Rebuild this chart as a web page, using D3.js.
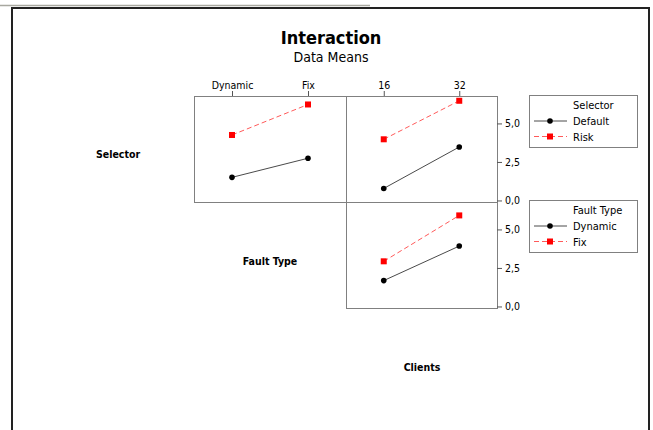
<!DOCTYPE html>
<html><head><meta charset="utf-8">
<script src="https://cdn.jsdelivr.net/npm/d3@7"></script>
<style>body{margin:0;background:#fff}svg{display:block}text{font-family:"DejaVu Sans Condensed","DejaVu Sans",sans-serif}</style>
</head><body><svg id="c" width="653" height="430"></svg>
<script>
// ---- data ----
const selectorLevels = ["Default", "Risk"];
const faultLevels = ["Dynamic", "Fix"];
const clientLevels = ["16", "32"];
// Selector x Fault Type means
const selDefaultByFault = [1.50, 2.74];
const selRiskByFault = [4.25, 6.23];
// Selector x Clients means
const selDefaultByClients = [0.78, 3.47];
const selRiskByClients = [3.97, 6.47];
// Fault Type x Clients means
const faultDynamicByClients = [1.68, 3.92];
const faultFixByClients = [2.93, 5.91];
const yTicks = [0, 2.5, 5];

const svg = d3.select("#c");
const locale = d3.formatLocale({decimal: ",", thousands: ".", grouping: [3], currency: ["", ""]});
const fmt = locale.format(".1f");

// frame
svg.append("line").attr("x1",0).attr("x2",370).attr("y1",5.5).attr("y2",5.5).attr("stroke","#a8a8a0").attr("stroke-width",1.5);
svg.append("rect").attr("x",12).attr("y",8).attr("width",637).attr("height",440).attr("fill","none").attr("stroke","#222").attr("stroke-width",2);

svg.append("text").attr("x",331).attr("y",44).attr("text-anchor","middle").attr("font-size",18).attr("font-weight","bold").text("Interaction");
svg.append("text").attr("x",331).attr("y",62).attr("text-anchor","middle").attr("font-size",14).text("Data Means");

// layout scales
const colX = [[194, 346], [346, 497]];
const rowY = [[96, 202], [202, 308]];
const yDomain = [-0.1, 6.78];
const xFault = d3.scalePoint().domain(faultLevels).range(colX[0]).padding(0.5);
const xClients = d3.scalePoint().domain(clientLevels).range(colX[1]).padding(0.5);
const yRow = rowY.map(r => d3.scaleLinear().domain(yDomain).range([r[1], r[0]]));

const styles = [
  {stroke:"#4a4a4a", dash:null, marker:"circle", fill:"#000"},
  {stroke:"#ff5a5a", dash:"5,3", marker:"square", fill:"#f00"}
];

function panel(x, y, seriesList, levels) {
  const [x0, x1] = x.range();
  const [yb, yt] = y.range();
  svg.append("rect").attr("x",x0+0.5).attr("y",yt+0.5).attr("width",x1-x0).attr("height",yb-yt)
    .attr("fill","none").attr("stroke","#808080").attr("stroke-width",1);
  seriesList.forEach((vals, i) => {
    const st = styles[i];
    const pts = levels.map((l, j) => [x(l), y(vals[j])]);
    svg.append("path").attr("d", d3.line()(pts)).attr("fill","none").attr("stroke",st.stroke)
      .attr("stroke-width",1).attr("stroke-dasharray",st.dash);
    pts.forEach(p => drawMarker(p[0], p[1], st));
  });
}
function drawMarker(cx, cy, st) {
  if (st.marker === "circle") svg.append("circle").attr("cx",cx).attr("cy",cy).attr("r",2.8).attr("fill",st.fill);
  else svg.append("rect").attr("x",cx-3).attr("y",cy-3).attr("width",6).attr("height",6).attr("fill",st.fill);
}

panel(xFault, yRow[0], [selDefaultByFault, selRiskByFault], faultLevels);
panel(xClients, yRow[0], [selDefaultByClients, selRiskByClients], clientLevels);
panel(xClients, yRow[1], [faultDynamicByClients, faultFixByClients], clientLevels);

// top axes
function styleAxis(g){ g.select(".domain").remove(); g.selectAll("line").attr("stroke","#555"); g.selectAll("text").attr("font-size",10.5).attr("fill","#000").attr("font-family",null); }
svg.append("g").attr("transform",`translate(0,${rowY[0][0]})`).call(d3.axisTop(xFault).tickSize(5).tickPadding(2)).call(styleAxis);
svg.append("g").attr("transform",`translate(0,${rowY[0][0]})`).call(d3.axisTop(xClients).tickSize(5).tickPadding(2)).call(styleAxis);
// right axes
rowY.forEach((r, i) => {
  svg.append("g").attr("transform",`translate(${colX[1][1]},0)`)
    .call(d3.axisRight(yRow[i]).tickValues(yTicks).tickFormat(fmt).tickSize(5).tickPadding(3)).call(styleAxis);
});

// factor labels
const lab = (x, y, t) => svg.append("text").attr("x",x).attr("y",y).attr("text-anchor","middle").attr("font-size",10.5).attr("font-weight","bold").text(t);
lab(118, 158, "Selector");
lab(270, 265, "Fault Type");
lab(422, 371, "Clients");

// legends
function legend(top, title, labels) {
  svg.append("rect").attr("x",529.5).attr("y",top+0.5).attr("width",108).attr("height",52).attr("fill","#fff").attr("stroke","#808080");
  svg.append("text").attr("x",573).attr("y",top+14).attr("font-size",11).text(title);
  labels.forEach((l, i) => {
    const yy = top + 26 + i*15.5;
    const st = styles[i];
    svg.append("line").attr("x1",534).attr("x2",567).attr("y1",yy).attr("y2",yy).attr("stroke",st.stroke).attr("stroke-dasharray",st.dash);
    drawMarker(550, yy, st);
    svg.append("text").attr("x",573).attr("y",yy+4).attr("font-size",11).text(l);
  });
}
legend(95, "Selector", selectorLevels);
legend(200, "Fault Type", faultLevels);
</script></body></html>
